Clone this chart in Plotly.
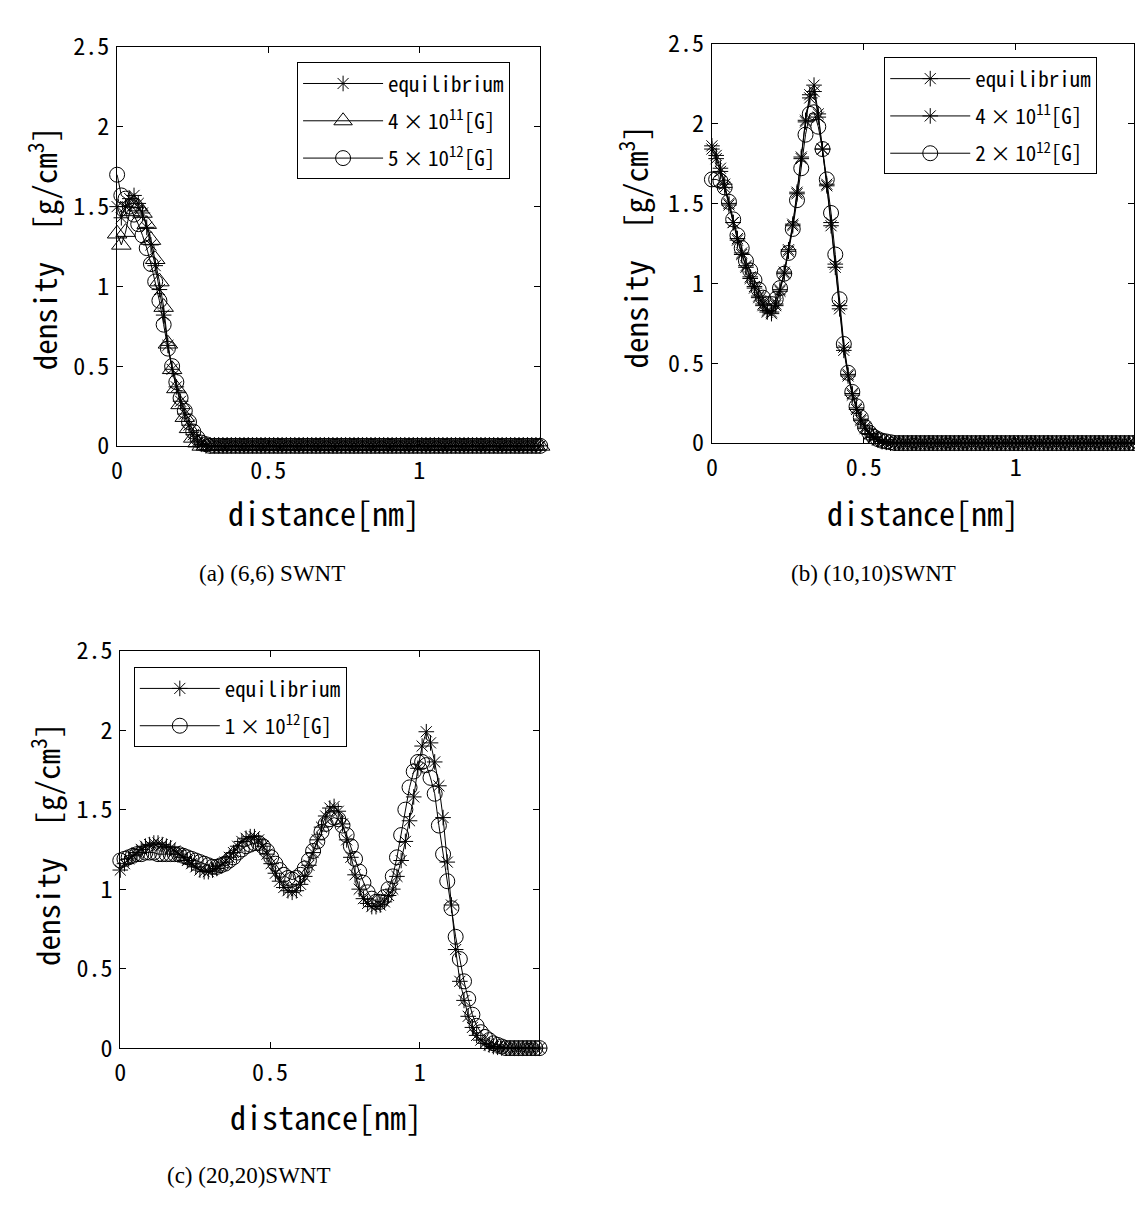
import plotly.graph_objects as go

# ---------------- data ----------------
STEP_NM = 0.014  # sampling step of the density profiles [nm]

# (a) (6,6) SWNT
A_EQ = [1.50, 1.43, 1.50, 1.55, 1.57, 1.52, 1.46, 1.37, 1.26, 1.13,
        0.98, 0.82, 0.63, 0.48, 0.37, 0.28, 0.20, 0.13, 0.07, 0.03,
        0.01, 0, 0, 0, 0, 0, 0, 0, 0, 0,
        0, 0, 0, 0, 0, 0, 0, 0, 0, 0,
        0, 0, 0, 0, 0, 0, 0, 0, 0, 0,
        0, 0, 0, 0, 0, 0, 0, 0, 0, 0,
        0, 0, 0, 0, 0, 0, 0, 0, 0, 0,
        0, 0, 0, 0, 0, 0, 0, 0, 0, 0,
        0, 0, 0, 0, 0, 0, 0, 0, 0, 0,
        0, 0, 0, 0, 0, 0, 0, 0, 0, 0,
        0]
A_4E11 = [1.33, 1.26, 1.34, 1.47, 1.52, 1.50, 1.46, 1.39, 1.29, 1.17,
          1.03, 0.87, 0.64, 0.48, 0.36, 0.26, 0.18, 0.11, 0.05, 0.02,
          0, 0, 0, 0, 0, 0, 0, 0, 0, 0,
          0, 0, 0, 0, 0, 0, 0, 0, 0, 0,
          0, 0, 0, 0, 0, 0, 0, 0, 0, 0,
          0, 0, 0, 0, 0, 0, 0, 0, 0, 0,
          0, 0, 0, 0, 0, 0, 0, 0, 0, 0,
          0, 0, 0, 0, 0, 0, 0, 0, 0, 0,
          0, 0, 0, 0, 0, 0, 0, 0, 0, 0,
          0, 0, 0, 0, 0, 0, 0, 0, 0, 0,
          0]
A_5E12 = [1.70, 1.57, 1.55, 1.50, 1.45, 1.39, 1.32, 1.24, 1.14, 1.03,
          0.91, 0.76, 0.61, 0.50, 0.40, 0.30, 0.22, 0.15, 0.09, 0.05,
          0.02, 0.01, 0, 0, 0, 0, 0, 0, 0, 0,
          0, 0, 0, 0, 0, 0, 0, 0, 0, 0,
          0, 0, 0, 0, 0, 0, 0, 0, 0, 0,
          0, 0, 0, 0, 0, 0, 0, 0, 0, 0,
          0, 0, 0, 0, 0, 0, 0, 0, 0, 0,
          0, 0, 0, 0, 0, 0, 0, 0, 0, 0,
          0, 0, 0, 0, 0, 0, 0, 0, 0, 0,
          0, 0, 0, 0, 0, 0, 0, 0, 0, 0,
          0]

# (b) (10,10) SWNT
B_EQ = [1.86, 1.80, 1.72, 1.62, 1.50, 1.38, 1.27, 1.18, 1.10, 1.03,
        0.97, 0.91, 0.86, 0.82, 0.81, 0.86, 0.95, 1.06, 1.20, 1.36,
        1.56, 1.78, 2.02, 2.18, 2.24, 2.06, 1.84, 1.61, 1.36, 1.10,
        0.84, 0.58, 0.42, 0.30, 0.21, 0.14, 0.09, 0.055, 0.035, 0.02,
        0.01, 0.005, 0, 0, 0, 0, 0, 0, 0, 0,
        0, 0, 0, 0, 0, 0, 0, 0, 0, 0,
        0, 0, 0, 0, 0, 0, 0, 0, 0, 0,
        0, 0, 0, 0, 0, 0, 0, 0, 0, 0,
        0, 0, 0, 0, 0, 0, 0, 0, 0, 0,
        0, 0, 0, 0, 0, 0, 0, 0, 0, 0,
        0]
B_4E11 = [1.84, 1.78, 1.70, 1.60, 1.49, 1.38, 1.28, 1.19, 1.11, 1.04,
          0.98, 0.92, 0.87, 0.83, 0.82, 0.87, 0.96, 1.07, 1.21, 1.37,
          1.57, 1.79, 2.01, 2.16, 2.20, 2.04, 1.84, 1.62, 1.38, 1.12,
          0.86, 0.60, 0.43, 0.31, 0.22, 0.15, 0.10, 0.06, 0.04, 0.02,
          0.01, 0.005, 0, 0, 0, 0, 0, 0, 0, 0,
          0, 0, 0, 0, 0, 0, 0, 0, 0, 0,
          0, 0, 0, 0, 0, 0, 0, 0, 0, 0,
          0, 0, 0, 0, 0, 0, 0, 0, 0, 0,
          0, 0, 0, 0, 0, 0, 0, 0, 0, 0,
          0, 0, 0, 0, 0, 0, 0, 0, 0, 0,
          0]
B_2E12 = [1.65, 1.65, 1.64, 1.60, 1.51, 1.40, 1.30, 1.22, 1.14, 1.08,
          1.02, 0.96, 0.91, 0.87, 0.87, 0.90, 0.97, 1.06, 1.19, 1.34,
          1.52, 1.72, 1.93, 2.06, 2.07, 1.98, 1.84, 1.65, 1.44, 1.18,
          0.90, 0.62, 0.44, 0.32, 0.23, 0.16, 0.10, 0.065, 0.04, 0.025,
          0.015, 0.01, 0.005, 0, 0, 0, 0, 0, 0, 0,
          0, 0, 0, 0, 0, 0, 0, 0, 0, 0,
          0, 0, 0, 0, 0, 0, 0, 0, 0, 0,
          0, 0, 0, 0, 0, 0, 0, 0, 0, 0,
          0, 0, 0, 0, 0, 0, 0, 0, 0, 0,
          0, 0, 0, 0, 0, 0, 0, 0, 0, 0,
          0]

# (c) (20,20) SWNT
C_EQ = [1.12, 1.16, 1.19, 1.21, 1.23, 1.25, 1.27, 1.28, 1.29, 1.29,
        1.28, 1.27, 1.26, 1.24, 1.22, 1.20, 1.18, 1.16, 1.14, 1.12,
        1.11, 1.11, 1.12, 1.13, 1.15, 1.17, 1.20, 1.23, 1.27, 1.30,
        1.32, 1.33, 1.33, 1.31, 1.27, 1.22, 1.16, 1.10, 1.05, 1.01,
        0.99, 0.98, 0.99, 1.03, 1.08, 1.15, 1.23, 1.31, 1.39, 1.46,
        1.51, 1.52, 1.49, 1.41, 1.31, 1.20, 1.09, 1.00, 0.94, 0.91,
        0.89, 0.89, 0.90, 0.92, 0.96, 1.00, 1.08, 1.18, 1.30, 1.43,
        1.58, 1.76, 1.90, 1.99, 1.92, 1.80, 1.65, 1.45, 1.17, 0.90,
        0.62, 0.42, 0.30, 0.20, 0.13, 0.08, 0.05, 0.03, 0.02, 0.01,
        0.005, 0, 0, 0, 0, 0, 0, 0, 0, 0,
        0]
C_1E12 = [1.18, 1.19, 1.20, 1.21, 1.22, 1.22, 1.23, 1.23, 1.23, 1.22,
          1.22, 1.22, 1.22, 1.22, 1.22, 1.21, 1.20, 1.19, 1.18, 1.17,
          1.16, 1.15, 1.14, 1.14, 1.15, 1.16, 1.18, 1.20, 1.23, 1.25,
          1.27, 1.28, 1.29, 1.29, 1.27, 1.24, 1.20, 1.16, 1.12, 1.09,
          1.07, 1.06, 1.07, 1.09, 1.13, 1.18, 1.24, 1.30, 1.36, 1.41,
          1.44, 1.45, 1.44, 1.40, 1.34, 1.27, 1.19, 1.11, 1.04, 0.98,
          0.94, 0.92, 0.92, 0.95, 1.00, 1.08, 1.20, 1.34, 1.50, 1.64,
          1.74, 1.80, 1.80, 1.78, 1.70, 1.60, 1.40, 1.22, 1.05, 0.88,
          0.70, 0.56, 0.42, 0.31, 0.21, 0.14, 0.10, 0.07, 0.05, 0.03,
          0.02, 0.01, 0, 0, 0, 0, 0, 0, 0, 0,
          0]

Y_TICKS = [0, 0.5, 1, 1.5, 2, 2.5]
Y_TICKTEXT = ["0", "0.5", "1", "1.5", "2", "2.5"]
X_TICKS = [0, 0.5, 1]
X_TICKTEXT = ["0", "0.5", "1"]

TS = "\u2009"  # thin space around the multiplication sign
PANELS = [
    dict(key="a", caption="(a) (6,6) SWNT", xrange=[0, 1.4], legend="legend",
         series=[("equilibrium", A_EQ, "asterisk-open", 13),
                 (f"4{TS}×{TS}10<sup>11</sup>[G]", A_4E11, "triangle-up-open", 17),
                 (f"5{TS}×{TS}10<sup>12</sup>[G]", A_5E12, "circle-open", 15)]),
    dict(key="b", caption="(b) (10,10)SWNT", xrange=[0, 1.389], legend="legend2",
         series=[("equilibrium", B_EQ, "asterisk-open", 13),
                 (f"4{TS}×{TS}10<sup>11</sup>[G]", B_4E11, "asterisk-open", 13),
                 (f"2{TS}×{TS}10<sup>12</sup>[G]", B_2E12, "circle-open", 15)]),
    dict(key="c", caption="(c) (20,20)SWNT", xrange=[0, 1.4], legend="legend3",
         series=[("equilibrium", C_EQ, "asterisk-open", 13),
                 (f"1{TS}×{TS}10<sup>12</sup>[G]", C_1E12, "circle-open", 15)]),
]

# ---------------- layout geometry (pixels) ----------------
W, H = 1135, 1207
BOX = {  # left, right, top, bottom in px
    "a": (111.8, 537.5, 27.9, 438.6),
    "b": (710.3, 1135.0, 24.3, 435.7),
    "c": (115.0, 536.8, 649.5, 1058.8),
}
LEGEND_POS = {"a": (292.9, 43.6), "b": (883.7, 38.6), "c": (128.6, 666.6)}
XTITLE_POS = {"a": (320, 507), "b": (922.5, 507), "c": (322.3, 1128.5)}
YTITLE_POS = {"a": (37.5, 235.7), "b": (631.3, 234), "c": (39.3, 849.7)}
CAPTION_POS = {"a": (268, 570), "b": (873, 570), "c": (245, 1190)}

MONO = "Noto Sans Mono CJK JP, Noto Sans CJK JP, DejaVu Sans Mono, monospace"
SERIF = "Liberation Serif, Times New Roman, serif"


def px(x, y):
    return x / W, 1 - y / H


fig = go.Figure()
layout = dict(width=W, height=H, margin=dict(l=0, r=0, t=0, b=0),
              paper_bgcolor="white", plot_bgcolor="white", showlegend=True,
              annotations=[])

for n, p in enumerate(PANELS, start=1):
    k = p["key"]
    l, r, t, b = BOX[k]
    xa = "xaxis" if n == 1 else f"xaxis{n}"
    ya = "yaxis" if n == 1 else f"yaxis{n}"
    xref = "x" if n == 1 else f"x{n}"
    yref = "y" if n == 1 else f"y{n}"
    axis_common = dict(showline=True, linecolor="black", linewidth=1, mirror="ticks",
                       ticks="inside", ticklen=6, tickwidth=1, tickcolor="black",
                       showgrid=False, zeroline=False,
                       tickfont=dict(family=MONO, size=24, color="black"))
    layout[xa] = dict(axis_common, domain=[l / W, r / W], range=p["xrange"],
                      tickvals=X_TICKS, ticktext=X_TICKTEXT, anchor=yref,
                      ticklabelstandoff=3)
    layout[ya] = dict(axis_common, domain=[1 - b / H, 1 - t / H], range=[0, 2.5],
                      tickvals=Y_TICKS, ticktext=Y_TICKTEXT, anchor=xref,
                      ticklabelstandoff=2)
    for gi, (name, vals, sym, size) in enumerate(p["series"]):
        dist = [round(STEP_NM * i, 3) for i in range(len(vals))]
        fig.add_trace(go.Scatter(
            x=dist, y=vals, name=name, mode="lines+markers",
            xaxis=xref, yaxis=yref, legend=p["legend"], legendgroup=f"{k}{gi}",
            line=dict(color="black", width=1),
            marker=dict(symbol=sym, size=size, color="black",
                        line=dict(color="black", width=1)),
            cliponaxis=False))
    lx, ly = px(*LEGEND_POS[k])
    layout[p["legend"]] = dict(x=lx, y=ly, xanchor="left", yanchor="top",
                               bgcolor="white", bordercolor="black", borderwidth=1,
                               font=dict(family=MONO, size=21, color="black"),
                               itemwidth=80, tracegroupgap=7)
    ax, ay = px(*XTITLE_POS[k])
    layout["annotations"].append(dict(text="distance[nm]", x=ax, y=ay, xref="paper",
                                      yref="paper", showarrow=False,
                                      xanchor="center", yanchor="middle",
                                      font=dict(family=MONO, size=32, color="black")))
    ax, ay = px(*YTITLE_POS[k])
    layout["annotations"].append(dict(text="density  [g/cm<sup>3</sup>]", x=ax, y=ay,
                                      xref="paper", yref="paper", showarrow=False,
                                      textangle=-90, xanchor="center", yanchor="middle",
                                      font=dict(family=MONO, size=31, color="black")))
    ax, ay = px(*CAPTION_POS[k])
    layout["annotations"].append(dict(text=p["caption"], x=ax, y=ay, xref="paper",
                                      yref="paper", showarrow=False,
                                      xanchor="center", yanchor="middle",
                                      font=dict(family=SERIF, size=23, color="black")))

fig.update_layout(**layout)
fig.write_html("out.html")
